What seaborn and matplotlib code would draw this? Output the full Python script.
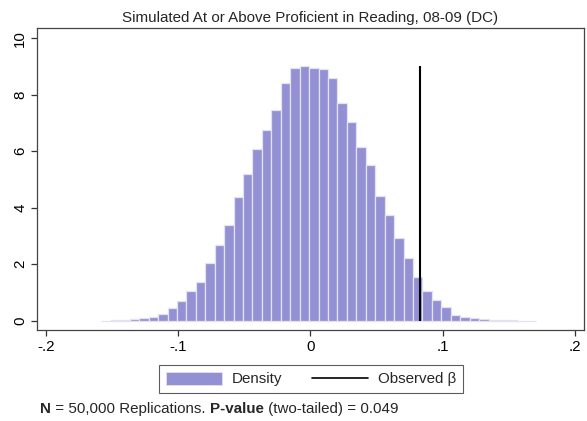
import numpy as np
import pandas as pd
import matplotlib
matplotlib.use("Agg")
import matplotlib.pyplot as plt
import seaborn as sns
from matplotlib.patches import Patch
from matplotlib.lines import Line2D

# ---------------- data ----------------
title = "Simulated At or Above Proficient in Reading, 08-09 (DC)"
bin_start = -0.1581
bin_width = 0.00714
density = [0.005, 0.01, 0.02,
           0.06, 0.10, 0.14, 0.24, 0.45, 0.71, 1.06, 1.36, 2.03, 2.68,
           3.40, 4.37, 5.19, 6.09, 6.75, 7.46, 8.40, 8.93, 9.02, 8.96,
           8.90, 8.58, 7.69, 7.05, 6.16, 5.52, 4.41, 3.74, 2.91, 2.21,
           1.53, 1.06, 0.73, 0.50, 0.21, 0.14, 0.09, 0.06,
           0.03, 0.02, 0.01, 0.005, 0.005]
observed_beta = 0.0829
x_ticks = [-0.2, -0.1, 0.0, 0.1, 0.2]
x_tick_labels = ["-.2", "-.1", "0", ".1", ".2"]
y_ticks = [0, 2, 4, 6, 8, 10]
y_tick_labels = ["0", "2", "4", "6", "8", "10"]
legend_labels = ["Density", "Observed β"]
footer_parts = [("N", "bold"), (" = 50,000 Replications. ", "normal"),
                ("P-value", "bold"), (" (two-tailed) = 0.049", "normal")]

# ---------------- style ----------------
sns.set_style("white")
plt.rcParams["font.family"] = ["Liberation Sans", "DejaVu Sans"]
bar_color = "#9490d4"
edge_color = "#e2e2f0"
fs = 10.9

W, H = 587, 421
fig = plt.figure(figsize=(W / 100, H / 100), dpi=100)
ax = fig.add_axes([37 / W, 91 / H, 547 / W, 302 / H])

n_bins = len(density)
bin_end = bin_start + bin_width * n_bins
centers = bin_start + bin_width * (np.arange(n_bins) + 0.5)
df = pd.DataFrame({"x": centers, "density": density})

sns.histplot(data=df, x="x", weights="density", bins=n_bins,
             binrange=(bin_start, bin_end), stat="count",
             color=bar_color, alpha=1, edgecolor=edge_color, linewidth=0.9,
             ax=ax)
ax.vlines(observed_beta, 0, max(density), color="black", lw=1.5)

ax.set_xlim(-0.2068, 0.2068)
ax.set_ylim(-0.33, 10.36)
ax.set_xticks(x_ticks)
ax.set_xticklabels(x_tick_labels)
ax.set_yticks(y_ticks)
ax.set_yticklabels(y_tick_labels, rotation=90, va="center")
ax.set_xlabel("")
ax.set_ylabel("")
ax.tick_params(axis="both", direction="out", length=4, width=0.9,
               colors="#333333", labelcolor="black", labelsize=fs,
               left=True, bottom=True, top=False, right=False, pad=3)
for s in ax.spines.values():
    s.set_visible(True)
    s.set_color("#444444")
    s.set_linewidth(0.9)
ax.set_title(title, fontsize=fs, pad=4)

handles = [Patch(facecolor=bar_color, edgecolor=edge_color, linewidth=0.6),
           Line2D([0], [0], color="black", lw=1.2)]
leg = fig.legend(handles, legend_labels, ncol=2, loc="center",
                 bbox_to_anchor=(311 / W, 1 - 379 / H), frameon=True,
                 fancybox=False, edgecolor="#333333", fontsize=fs,
                 handlelength=3.7, handleheight=0.95, columnspacing=2.0,
                 handletextpad=0.65, borderpad=0.45)
leg.get_frame().set_linewidth(0.8)

# footer with mixed bold text
fig.canvas.draw()
renderer = fig.canvas.get_renderer()
x_px = 40
for txt, wt in footer_parts:
    t = fig.text(x_px / W, 1 - 409 / H, txt, fontsize=fs, fontweight=wt,
                 va="center", ha="left")
    bb = t.get_window_extent(renderer=renderer)
    x_px += bb.width

fig.savefig("out.png", dpi=100)
